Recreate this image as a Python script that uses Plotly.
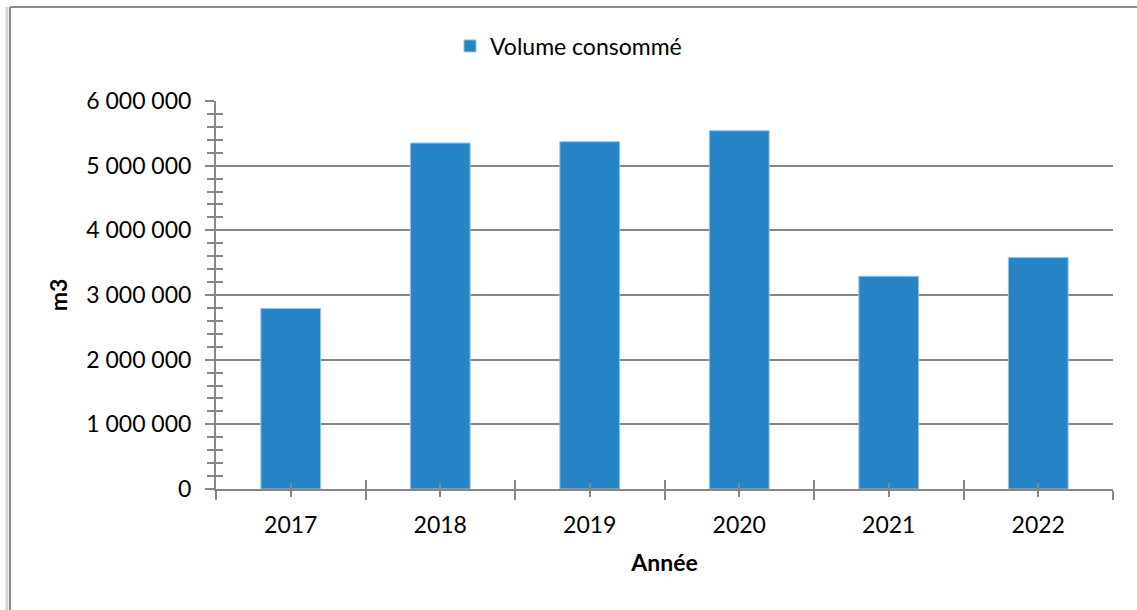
import plotly.graph_objects as go

# data
years = [2017, 2018, 2019, 2020, 2021, 2022]
volumes = [2790000, 5350000, 5370000, 5540000, 3290000, 3580000]
series_name = "Volume consommé"
x_title = "Année"
y_title = "m3"

BLUE = "#2683C6"
GREY = "#878787"
FONT = "Lato"

# plot area in pixels: left 216, top 101, width 897, height 388
PW, PH = 897, 388

fig = go.Figure()
fig.add_trace(go.Bar(
    x=years, y=volumes, name=series_name, width=0.4,
    marker=dict(color=BLUE, line=dict(color="#9DC3E6", width=1)),
))
# invisible helper so the overlaid axes (inner half of cross ticks) get drawn
fig.add_trace(go.Scatter(
    x=years, y=volumes, xaxis="x2", yaxis="y2", mode="markers",
    marker=dict(opacity=0), showlegend=False, hoverinfo="skip",
))

x_range = [years[0] - 0.5, years[-1] + 0.5]
y_range = [0, 6000000]

fig.update_layout(
    width=1137, height=610,
    margin=dict(l=216, r=24, t=101, b=121, autoexpand=False),
    paper_bgcolor="white", plot_bgcolor="white",
    separators=", ",
    font=dict(family=FONT, size=23, color="#000000"),
    showlegend=True,
    legend=dict(x=(450 - 216) / PW, y=(388 + 55) / PH, xanchor="left",
                yanchor="middle", orientation="h", font=dict(size=23),
                itemwidth=30, bgcolor="rgba(0,0,0,0)"),
    bargap=0.6,
    xaxis=dict(
        range=x_range, tickvals=years, ticktext=[str(y) for y in years],
        automargin=False,
        showline=True, linecolor=GREY, linewidth=2,
        ticks="outside", ticklen=6, tickwidth=2, tickcolor=GREY,
        minor=dict(tick0=years[0] - 0.5, dtick=1, ticks="outside",
                   ticklen=9, tickwidth=2, tickcolor=GREY, showgrid=False),
        showgrid=False, zeroline=False,
        ticklabelstandoff=8,
        title=dict(text="<b>" + x_title + "</b>", standoff=18,
                   font=dict(size=23)),
    ),
    yaxis=dict(
        range=y_range, dtick=1000000, tickformat=",d",
        automargin=False,
        showline=True, linecolor=GREY, linewidth=2,
        ticks="outside", ticklen=9, tickwidth=2, tickcolor=GREY,
        minor=dict(dtick=200000, ticks="outside", ticklen=7, tickwidth=2,
                   tickcolor=GREY, showgrid=False),
        showgrid=True, gridcolor=GREY, gridwidth=2, zeroline=False,
        ticklabelstandoff=9,
        title=dict(text="<b>" + y_title + "</b>", standoff=12,
                   font=dict(size=23)),
    ),
    xaxis2=dict(
        overlaying="x", anchor="y2", range=x_range, tickvals=years,
        automargin=False,
        showticklabels=False, showline=False, showgrid=False, zeroline=False,
        ticks="inside", ticklen=6, tickwidth=2, tickcolor=GREY,
        minor=dict(tick0=years[0] - 0.5, dtick=1, ticks="inside",
                   ticklen=9, tickwidth=2, tickcolor=GREY, showgrid=False),
    ),
    yaxis2=dict(
        overlaying="y", anchor="x2", side="left", range=y_range,
        automargin=False,
        dtick=200000, showticklabels=False, showline=False, showgrid=False,
        zeroline=False, ticks="inside", ticklen=7, tickwidth=2, tickcolor=GREY,
    ),
    shapes=[
        dict(type="line", xref="paper", yref="paper",
             x0=-206 / PW, x1=1137 / PW, y0=1 + 94 / PH, y1=1 + 94 / PH,
             line=dict(color="#8C8C8C", width=2)),
        dict(type="line", xref="paper", yref="paper",
             x0=-206 / PW, x1=-206 / PW, y0=1 + 94 / PH, y1=-130 / PH,
             line=dict(color="#8C8C8C", width=2)),
        dict(type="line", xref="paper", yref="paper",
             x0=-209 / PW, x1=-209 / PW, y0=1 + 94 / PH, y1=-130 / PH,
             line=dict(color="#D4D4D4", width=3)),
    ],
)

# drop the browser's default 8px body margin so the figure sits at (0, 0)
fig.write_html("out.html", config={"displayModeBar": False},
               post_script="document.body.style.margin = '0';")
